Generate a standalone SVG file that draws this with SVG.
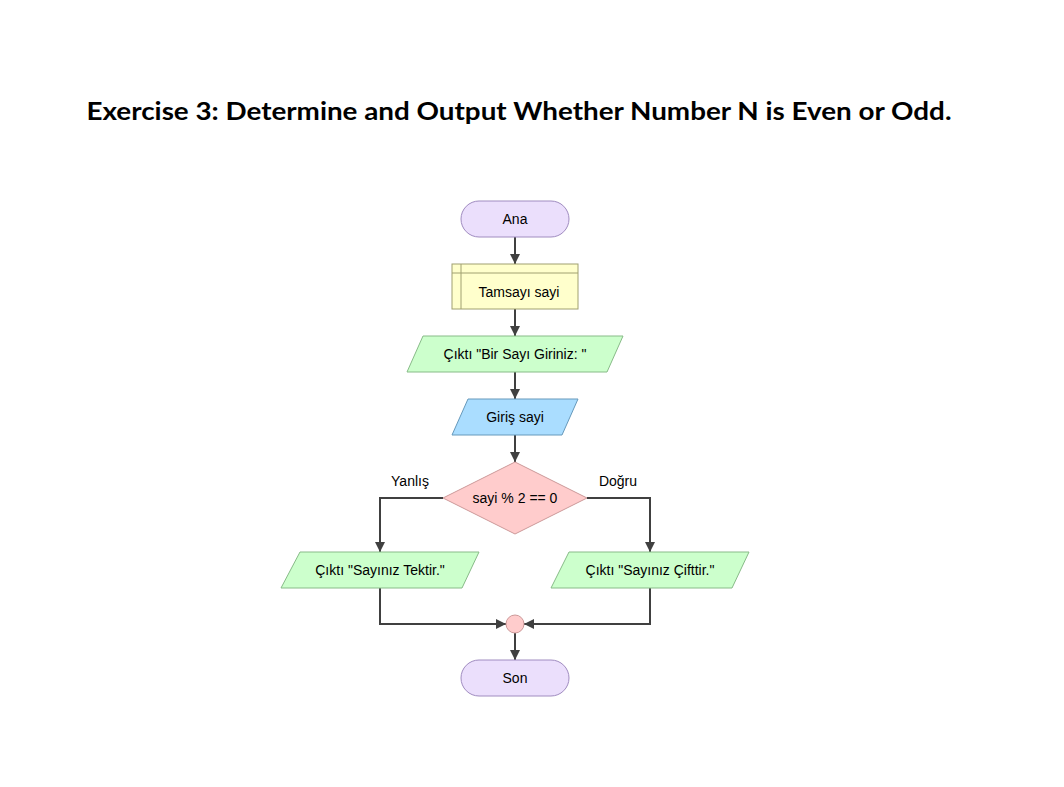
<svg xmlns="http://www.w3.org/2000/svg" width="1064" height="787" viewBox="0 0 1064 787">
<style>
.t{font-family:"Liberation Sans",Arial,sans-serif;font-size:14px;fill:#000;text-anchor:middle;dominant-baseline:central}
.term{fill:#ebdffc;stroke:#a08cc0;stroke-width:1}
.decl{fill:#ffffcc;stroke:#a0a070;stroke-width:1}
.out{fill:#ccffcc;stroke:#88bb88;stroke-width:1}
.inp{fill:#aaddff;stroke:#6699bb;stroke-width:1}
.dec{fill:#ffcccc;stroke:#cc9999;stroke-width:1}
.c{fill:none;stroke:#404040;stroke-width:2}
</style>
<defs>
<marker id="ah" viewBox="0 0 10 10" refX="10" refY="5" markerWidth="10" markerHeight="10" markerUnits="userSpaceOnUse" orient="auto">
<path d="M0,0 L10,5 L0,10 z" fill="#404040"/>
</marker>
</defs>
<rect width="1064" height="787" fill="#fff"/>
<text x="519" y="110" font-family="Lato,'Noto Sans',sans-serif" font-weight="bold" font-size="25" text-anchor="middle" dominant-baseline="central" textLength="865" lengthAdjust="spacingAndGlyphs">Exercise 3: Determine and Output Whether Number N is Even or Odd.</text>
<g id="connectors">
<path class="c" d="M515,237 V264" marker-end="url(#ah)"/>
<path class="c" d="M515,309 V336" marker-end="url(#ah)"/>
<path class="c" d="M515,372 V399" marker-end="url(#ah)"/>
<path class="c" d="M515,435 V462" marker-end="url(#ah)"/>
<path class="c" d="M443,498 H380 V552" marker-end="url(#ah)"/>
<path class="c" d="M587,498 H650 V552" marker-end="url(#ah)"/>
<path class="c" d="M380,588 V624 H506" marker-end="url(#ah)"/>
<path class="c" d="M650,588 V624 H524" marker-end="url(#ah)"/>
<path class="c" d="M515,633 V660" marker-end="url(#ah)"/>
<text class="t" x="410" y="481">Yanlış</text>
<text class="t" x="618" y="481">Doğru</text>
</g>
<g id="start">
<rect class="term" x="461" y="201" width="108" height="36" rx="18"/>
<text class="t" x="515" y="219">Ana</text>
</g>
<g id="declare">
<rect class="decl" x="452" y="264" width="126" height="45"/>
<path d="M452,273 H578 M461,264 V309" stroke="#a0a070" stroke-width="1" fill="none"/>
<text class="t" x="519" y="292">Tamsayı sayi</text>
</g>
<g id="output1">
<polygon class="out" points="423,336 623,336 607,372 407,372"/>
<text class="t" x="515" y="354">Çıktı "Bir Sayı Giriniz: "</text>
</g>
<g id="input1">
<polygon class="inp" points="468,399 578,399 562,435 452,435"/>
<text class="t" x="515" y="417">Giriş sayi</text>
</g>
<g id="decision">
<polygon class="dec" points="515,462 587,498 515,534 443,498"/>
<text class="t" x="515" y="498">sayi % 2 == 0</text>
</g>
<g id="outOdd">
<polygon class="out" points="300,552 479,552 462,588 281,588"/>
<text class="t" x="380" y="570">Çıktı "Sayınız Tektir."</text>
</g>
<g id="outEven">
<polygon class="out" points="569,552 749,552 732,588 551,588"/>
<text class="t" x="650" y="570">Çıktı "Sayınız Çifttir."</text>
</g>
<g id="junction">
<circle cx="515" cy="624" r="9" fill="#ffcccc" stroke="#cc9999" stroke-width="1"/>
</g>
<g id="end">
<rect class="term" x="461" y="660" width="108" height="36" rx="18"/>
<text class="t" x="515" y="678">Son</text>
</g>
</svg>
